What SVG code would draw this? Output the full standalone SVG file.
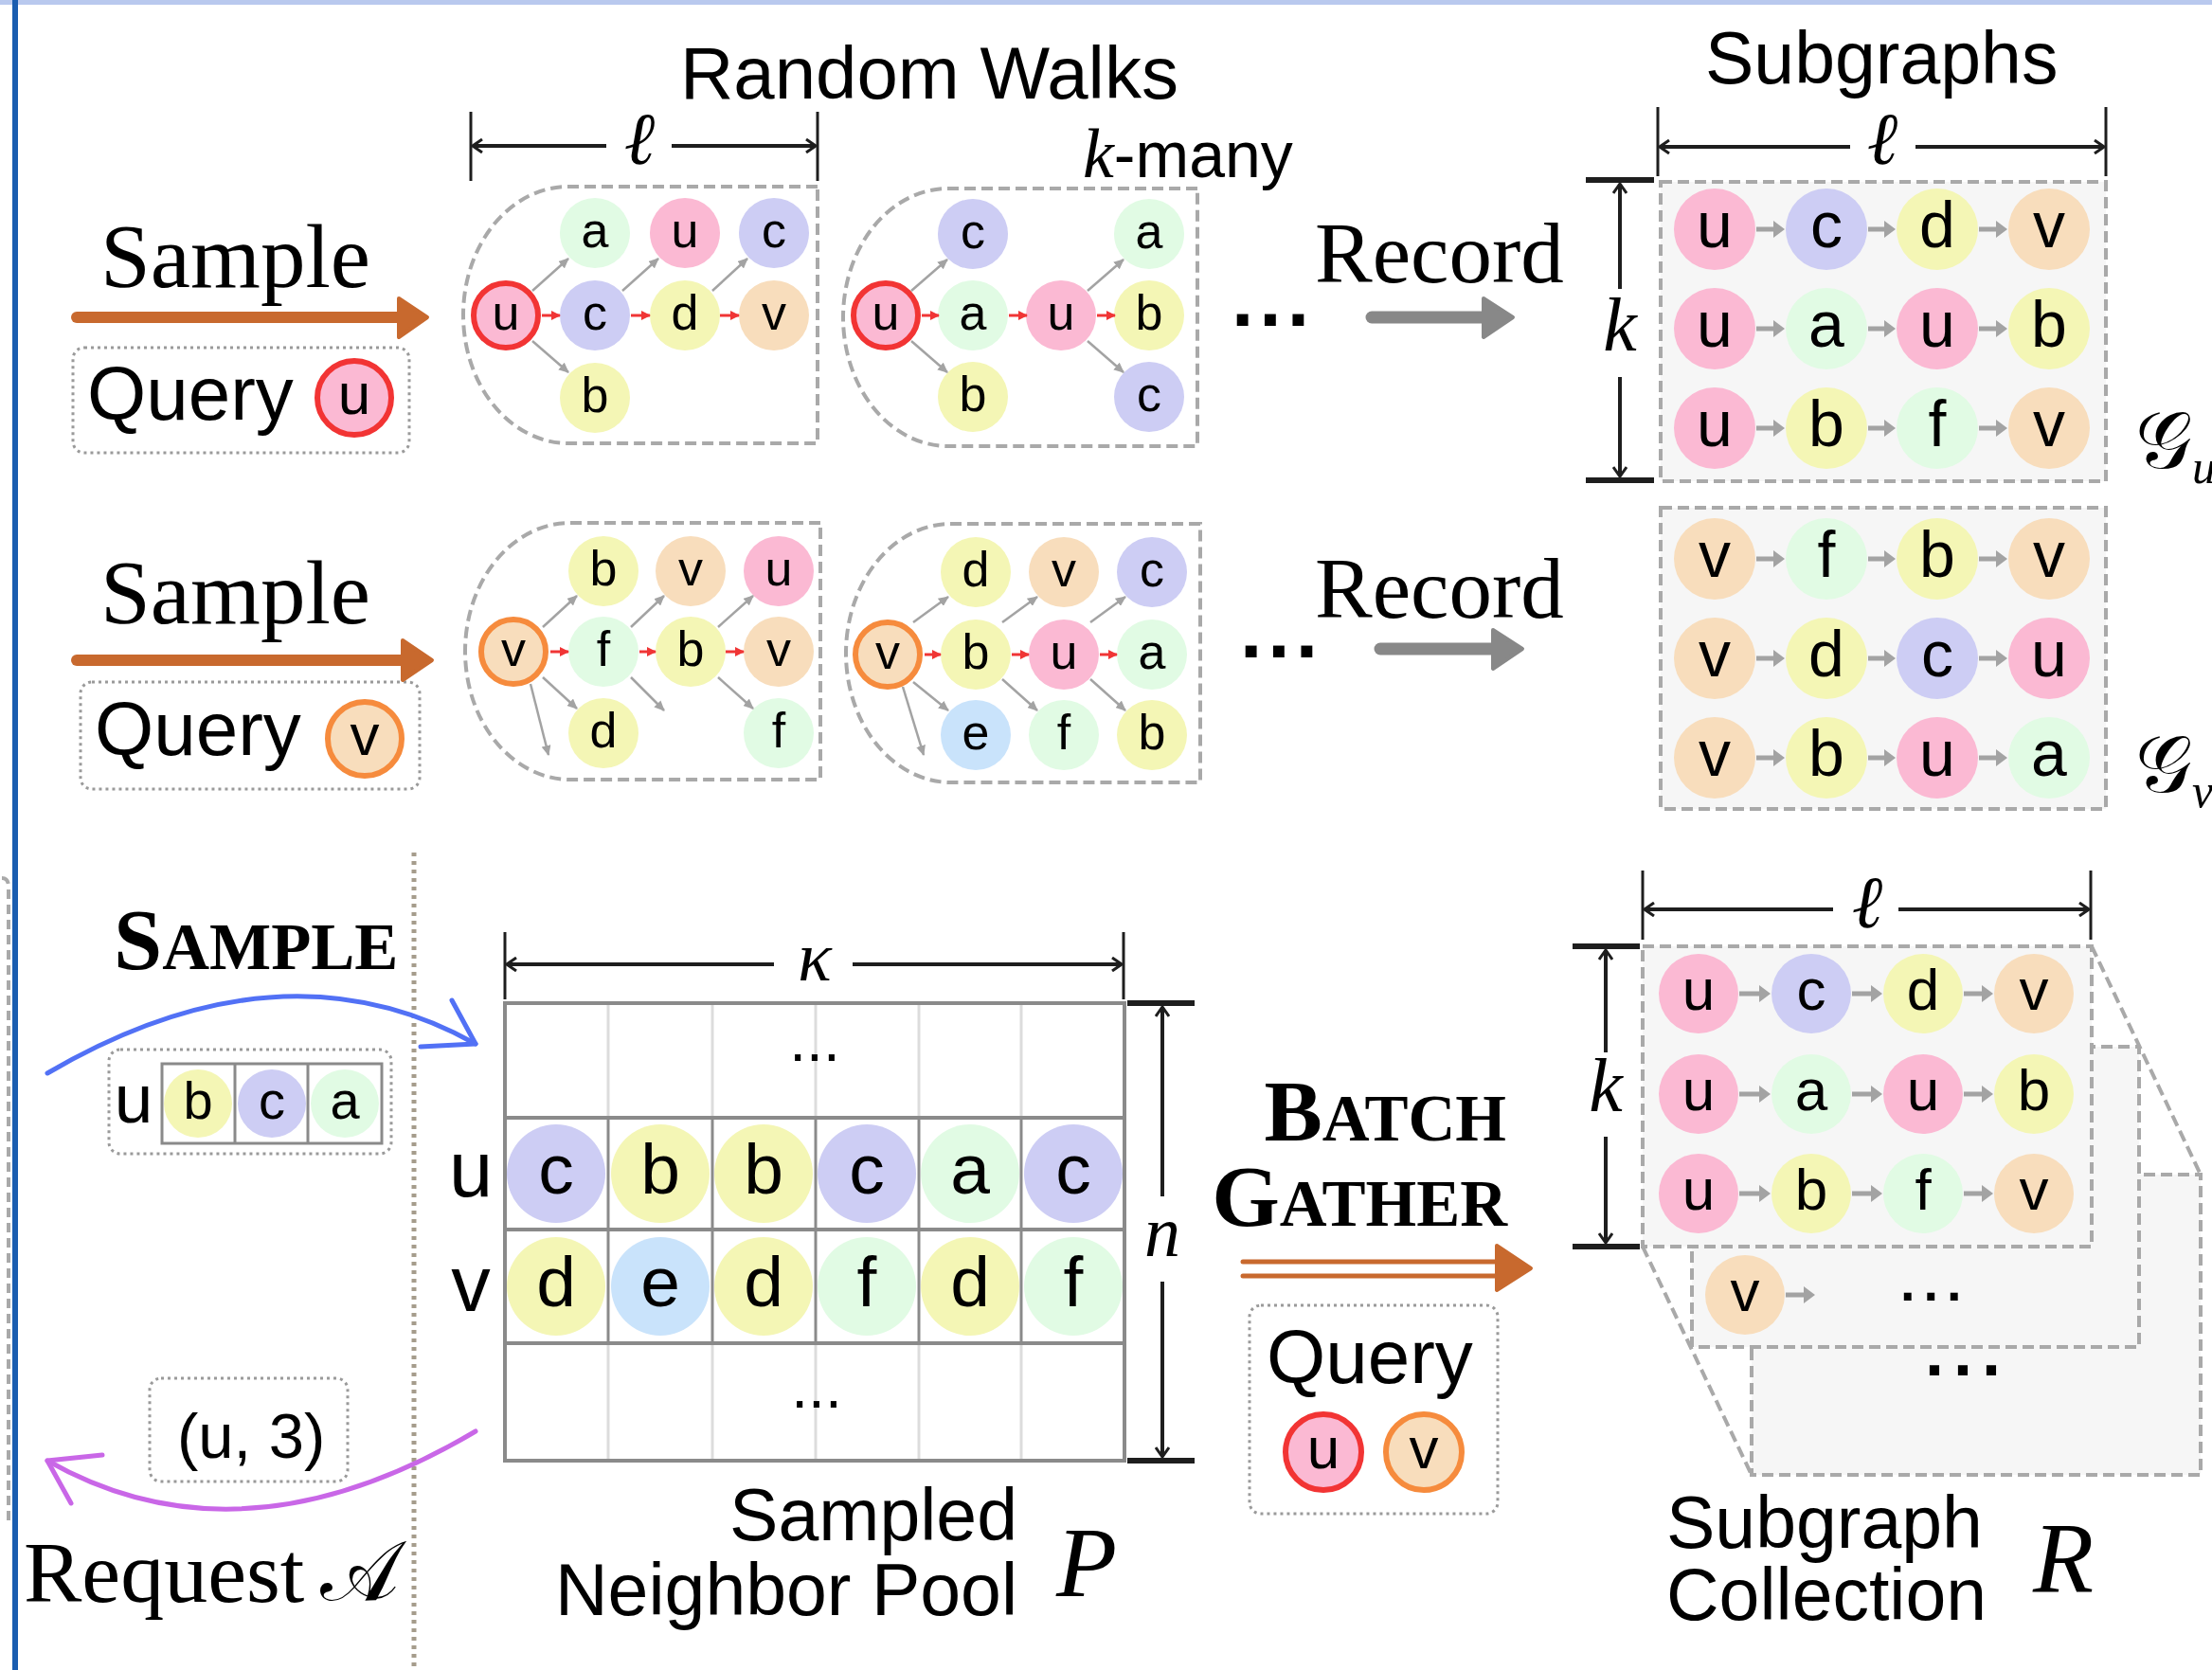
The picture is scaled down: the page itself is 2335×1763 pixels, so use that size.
<svg xmlns="http://www.w3.org/2000/svg" width="2335" height="1763" viewBox="0 0 2335 1763">
<defs>
<style>
.sans{font-family:"Liberation Sans",Arial,sans-serif}
.serif{font-family:"Liberation Serif","Times New Roman",serif}
.math{font-family:"Liberation Serif","DejaVu Serif",serif;font-style:italic}
.cal{font-family:"DejaVu Serif","Liberation Serif",serif;font-style:normal}
.n text{font-family:"Liberation Sans",Arial,sans-serif;text-anchor:middle;fill:#000}
.wk text{font-size:52px}
.sg text{font-size:68px}
.rc text{font-size:62px}
.pl text{font-size:75px}
.sm text{font-size:56px}
.qy text{font-size:62px}
.pk{fill:#fbb9d3}
.lv{fill:#cdcdf4}
.yl{fill:#f4f6b5}
.pc{fill:#f8ddbc}
.mt{fill:#e1fbe4}
.bl{fill:#c9e3fb}
.qu{stroke:#f23434;stroke-width:6}
.qv{stroke:#f68b3d;stroke-width:6}
.pan{fill:none;stroke:#a9a9a9;stroke-width:4;stroke-dasharray:12 6}
.sgp{fill:#f6f6f6;stroke:#a9a9a9;stroke-width:4;stroke-dasharray:12 6}
.qbox{fill:none;stroke:#9a9a9a;stroke-width:3;stroke-dasharray:3 4}
.dim{stroke:#1e1e1e;stroke-width:4;fill:none;marker-end:url(#dm)}
.tick{stroke:#1e1e1e;stroke-width:3}
.tickb{stroke:#1e1e1e;stroke-width:6}
.ga{stroke:#a3a3a3;stroke-width:2.5;fill:none;marker-end:url(#gm)}
.ra{stroke:#f03535;stroke-width:3;fill:none;marker-end:url(#rm)}
.sa{stroke:#a3a3a3;stroke-width:5;fill:none;marker-end:url(#sm)}
.grid{stroke:#8a8a8a;stroke-width:4;fill:none}
.gridl{stroke:#dcdcdc;stroke-width:3}
.gridm{stroke:#8a8a8a;stroke-width:3}
</style>
<marker id="gm" markerUnits="userSpaceOnUse" viewBox="0 0 11 10" refX="10" refY="5" markerWidth="11" markerHeight="10" orient="auto"><path d="M0,0 L11,5 L0,10 z" fill="#a3a3a3"/></marker>
<marker id="rm" markerUnits="userSpaceOnUse" viewBox="0 0 10 10" refX="9" refY="5" markerWidth="10" markerHeight="10" orient="auto"><path d="M0,0 L10,5 L0,10 z" fill="#f03535"/></marker>
<marker id="sm" markerUnits="userSpaceOnUse" viewBox="0 0 12 18" refX="2" refY="9" markerWidth="12" markerHeight="18" orient="auto"><path d="M0,0 L12,9 L0,18 z" fill="#a3a3a3"/></marker>
<marker id="dm" markerUnits="userSpaceOnUse" viewBox="0 0 12 16" refX="11" refY="8" markerWidth="12" markerHeight="16" orient="auto"><path d="M1,1 L11,8 L1,15" fill="none" stroke="#1e1e1e" stroke-width="3"/></marker>
</defs>

<rect width="2335" height="1763" fill="#ffffff"/>
<!-- page frame -->
<rect x="0" y="0" width="2335" height="5" fill="#b9c9ee"/>
<rect x="13" y="0" width="6" height="1763" fill="#1a5db0"/>
<path d="M2 927 Q9 927 9 936 L9 1606" fill="none" stroke="#a9a9a9" stroke-width="4" stroke-dasharray="10 6"/>
<line x1="437" y1="900" x2="437" y2="1763" stroke="#a59c8c" stroke-width="5" stroke-dasharray="4 5"/>

<!-- ===== top section: random walks ===== -->
<g id="labels-top">
<text x="718" y="104" class="sans" font-size="78">Random Walks</text>
<text x="1800" y="88" class="sans" font-size="77">Subgraphs</text>
<text x="1143" y="187"><tspan class="math" font-size="74">k</tspan><tspan class="sans" font-size="68">-many</tspan></text>
<text x="106" y="303" class="serif" font-size="95">Sample</text>
<text x="106" y="658" class="serif" font-size="95">Sample</text>
<text x="1388" y="298" class="serif" font-size="91">Record</text>
<text x="1388" y="652" class="serif" font-size="91">Record</text>
<text x="1300" y="344" class="sans" font-size="84" font-weight="bold" letter-spacing="6">...</text>
<text x="1309" y="694" class="sans" font-size="84" font-weight="bold" letter-spacing="6">...</text>
<text x="2254" y="494" class="cal" font-size="84">𝒢<tspan class="math" font-size="50" dy="16">u</tspan></text>
<text x="2254" y="836" class="cal" font-size="84">𝒢<tspan class="math" font-size="50" dy="16">v</tspan></text>
</g>

<!-- query boxes -->
<g id="query-u">
<rect x="77" y="367" width="355" height="111" rx="12" class="qbox"/>
<text x="92" y="443" class="sans" font-size="80">Query</text>
<g class="n qy" transform="translate(374 420)"><circle r="39" class="pk qu"/><text y="17">u</text></g>
</g>
<g id="query-v">
<rect x="85" y="720" width="358" height="113" rx="12" class="qbox"/>
<text x="100" y="797" class="sans" font-size="80">Query</text>
<g class="n qy" transform="translate(385 780)"><circle r="39" class="pc qv"/><text y="17">v</text></g>
</g>

<!-- walk panels -->
<path id="walk-u1" class="pan" d="M863 197 L600 197 A111 135.5 0 0 0 600 468 L863 468 Z"/>
<path id="walk-u2" class="pan" d="M1264 199 L1001 199 A111 136 0 0 0 1001 471 L1264 471 Z"/>
<path id="walk-v1" class="pan" d="M866 552 L602 552 A111 135.5 0 0 0 602 823 L866 823 Z"/>
<path id="walk-v2" class="pan" d="M1267 553 L1004 553 A111 136.5 0 0 0 1004 826 L1267 826 Z"/>

<!-- subgraph panels -->
<rect id="panel-gu" x="1753" y="192" width="470" height="316" class="sgp"/>
<rect id="panel-gv" x="1753" y="536" width="470" height="318" class="sgp"/>

<!-- dimension marks -->
<g id="dims-top">
<line x1="497" y1="118" x2="497" y2="191" class="tick"/>
<line x1="863" y1="118" x2="863" y2="191" class="tick"/>
<path d="M640 154 L499 154" class="dim"/>
<path d="M709 154 L861 154" class="dim"/>
<text x="675" y="173" class="math" font-size="78" text-anchor="middle">ℓ</text>
<line x1="1750" y1="113" x2="1750" y2="186" class="tick"/>
<line x1="2223" y1="113" x2="2223" y2="186" class="tick"/>
<path d="M1953 155 L1752 155" class="dim"/>
<path d="M2022 155 L2221 155" class="dim"/>
<text x="1987" y="173" class="math" font-size="78" text-anchor="middle">ℓ</text>
<line x1="1674" y1="190" x2="1746" y2="190" class="tickb"/>
<line x1="1674" y1="507" x2="1746" y2="507" class="tickb"/>
<path d="M1710 305 L1710 194" class="dim"/>
<path d="M1710 398 L1710 503" class="dim"/>
<text x="1710" y="370" class="math" font-size="80" text-anchor="middle">k</text>
</g>

<!-- walk nodes -->
<g class="n wk">
<g id="w1-u0" transform="translate(534 333)"><circle r="34" class="pk qu"/><text y="15">u</text></g>
<g id="w1-a" transform="translate(628 246)"><circle r="37" class="mt"/><text y="15">a</text></g>
<g id="w1-c" transform="translate(628 333)"><circle r="37" class="lv"/><text y="15">c</text></g>
<g id="w1-b" transform="translate(628 420)"><circle r="37" class="yl"/><text y="15">b</text></g>
<g id="w1-u1" transform="translate(723 246)"><circle r="37" class="pk"/><text y="15">u</text></g>
<g id="w1-d" transform="translate(723 333)"><circle r="37" class="yl"/><text y="15">d</text></g>
<g id="w1-c2" transform="translate(817 246)"><circle r="37" class="lv"/><text y="15">c</text></g>
<g id="w1-v" transform="translate(817 333)"><circle r="37" class="pc"/><text y="15">v</text></g>

<g id="w2-u0" transform="translate(935 333)"><circle r="34" class="pk qu"/><text y="15">u</text></g>
<g id="w2-c" transform="translate(1027 247)"><circle r="37" class="lv"/><text y="15">c</text></g>
<g id="w2-a" transform="translate(1027 333)"><circle r="37" class="mt"/><text y="15">a</text></g>
<g id="w2-b" transform="translate(1027 419)"><circle r="37" class="yl"/><text y="15">b</text></g>
<g id="w2-u1" transform="translate(1120 333)"><circle r="37" class="pk"/><text y="15">u</text></g>
<g id="w2-a2" transform="translate(1213 247)"><circle r="37" class="mt"/><text y="15">a</text></g>
<g id="w2-b2" transform="translate(1213 333)"><circle r="37" class="yl"/><text y="15">b</text></g>
<g id="w2-c2" transform="translate(1213 419)"><circle r="37" class="lv"/><text y="15">c</text></g>

<g id="w3-v0" transform="translate(542 688)"><circle r="34" class="pc qv"/><text y="15">v</text></g>
<g id="w3-b" transform="translate(637 603)"><circle r="37" class="yl"/><text y="15">b</text></g>
<g id="w3-f" transform="translate(637 688)"><circle r="37" class="mt"/><text y="15">f</text></g>
<g id="w3-d" transform="translate(637 774)"><circle r="37" class="yl"/><text y="15">d</text></g>
<g id="w3-v1" transform="translate(729 603)"><circle r="37" class="pc"/><text y="15">v</text></g>
<g id="w3-b2" transform="translate(729 688)"><circle r="37" class="yl"/><text y="15">b</text></g>
<g id="w3-u" transform="translate(822 603)"><circle r="37" class="pk"/><text y="15">u</text></g>
<g id="w3-v2" transform="translate(822 688)"><circle r="37" class="pc"/><text y="15">v</text></g>
<g id="w3-f2" transform="translate(822 774)"><circle r="37" class="mt"/><text y="15">f</text></g>

<g id="w4-v0" transform="translate(937 691)"><circle r="34" class="pc qv"/><text y="15">v</text></g>
<g id="w4-d" transform="translate(1030 604)"><circle r="37" class="yl"/><text y="15">d</text></g>
<g id="w4-b" transform="translate(1030 691)"><circle r="37" class="yl"/><text y="15">b</text></g>
<g id="w4-e" transform="translate(1030 776)"><circle r="37" class="bl"/><text y="15">e</text></g>
<g id="w4-v1" transform="translate(1123 604)"><circle r="37" class="pc"/><text y="15">v</text></g>
<g id="w4-u" transform="translate(1123 691)"><circle r="37" class="pk"/><text y="15">u</text></g>
<g id="w4-f" transform="translate(1123 776)"><circle r="37" class="mt"/><text y="15">f</text></g>
<g id="w4-c" transform="translate(1216 604)"><circle r="37" class="lv"/><text y="15">c</text></g>
<g id="w4-a" transform="translate(1216 691)"><circle r="37" class="mt"/><text y="15">a</text></g>
<g id="w4-b2" transform="translate(1216 776)"><circle r="37" class="yl"/><text y="15">b</text></g>
</g>

<!-- subgraph nodes G_u / G_v -->
<g class="n sg">
<g id="gu-11" transform="translate(1810 242)"><circle r="43" class="pk"/><text y="19">u</text></g>
<g id="gu-12" transform="translate(1928 242)"><circle r="43" class="lv"/><text y="19">c</text></g>
<g id="gu-13" transform="translate(2045 242)"><circle r="43" class="yl"/><text y="19">d</text></g>
<g id="gu-14" transform="translate(2163 242)"><circle r="43" class="pc"/><text y="19">v</text></g>
<g id="gu-21" transform="translate(1810 347)"><circle r="43" class="pk"/><text y="19">u</text></g>
<g id="gu-22" transform="translate(1928 347)"><circle r="43" class="mt"/><text y="19">a</text></g>
<g id="gu-23" transform="translate(2045 347)"><circle r="43" class="pk"/><text y="19">u</text></g>
<g id="gu-24" transform="translate(2163 347)"><circle r="43" class="yl"/><text y="19">b</text></g>
<g id="gu-31" transform="translate(1810 452)"><circle r="43" class="pk"/><text y="19">u</text></g>
<g id="gu-32" transform="translate(1928 452)"><circle r="43" class="yl"/><text y="19">b</text></g>
<g id="gu-33" transform="translate(2045 452)"><circle r="43" class="mt"/><text y="19">f</text></g>
<g id="gu-34" transform="translate(2163 452)"><circle r="43" class="pc"/><text y="19">v</text></g>

<g id="gv-11" transform="translate(1810 590)"><circle r="43" class="pc"/><text y="19">v</text></g>
<g id="gv-12" transform="translate(1928 590)"><circle r="43" class="mt"/><text y="19">f</text></g>
<g id="gv-13" transform="translate(2045 590)"><circle r="43" class="yl"/><text y="19">b</text></g>
<g id="gv-14" transform="translate(2163 590)"><circle r="43" class="pc"/><text y="19">v</text></g>
<g id="gv-21" transform="translate(1810 695)"><circle r="43" class="pc"/><text y="19">v</text></g>
<g id="gv-22" transform="translate(1928 695)"><circle r="43" class="yl"/><text y="19">d</text></g>
<g id="gv-23" transform="translate(2045 695)"><circle r="43" class="lv"/><text y="19">c</text></g>
<g id="gv-24" transform="translate(2163 695)"><circle r="43" class="pk"/><text y="19">u</text></g>
<g id="gv-31" transform="translate(1810 800)"><circle r="43" class="pc"/><text y="19">v</text></g>
<g id="gv-32" transform="translate(1928 800)"><circle r="43" class="yl"/><text y="19">b</text></g>
<g id="gv-33" transform="translate(2045 800)"><circle r="43" class="pk"/><text y="19">u</text></g>
<g id="gv-34" transform="translate(2163 800)"><circle r="43" class="mt"/><text y="19">a</text></g>
</g>

<!-- ===== bottom section: neighbor pool ===== -->
<g id="labels-bottom">
<text x="120" y="1023" class="serif" font-weight="bold" font-size="92">S<tspan font-size="69">AMPLE</tspan></text>
<text x="1590" y="1204" class="serif" font-weight="bold" font-size="92" text-anchor="end">B<tspan font-size="69">ATCH</tspan></text>
<text x="1591" y="1294" class="serif" font-weight="bold" font-size="92" text-anchor="end">G<tspan font-size="69">ATHER</tspan></text>
<text x="25" y="1691" class="serif" font-size="92">Request</text>
<text x="338" y="1689" class="cal" font-size="88">𝒜</text>
<text x="1074" y="1626" class="sans" font-size="77" text-anchor="end">Sampled</text>
<text x="1074" y="1705" class="sans" font-size="77" text-anchor="end">Neighbor Pool</text>
<text x="1115" y="1685" class="math" font-size="105">P</text>
<text x="1759" y="1634" class="sans" font-size="77">Subgraph</text>
<text x="1759" y="1710" class="sans" font-size="77">Collection</text>
<text x="2146" y="1680" class="math" font-size="105">R</text>
</g>

<!-- request box -->
<g id="request">
<rect x="158" y="1455" width="209" height="109" rx="12" class="qbox"/>
<text x="187" y="1539" class="sans" font-size="67">(u, 3)</text>
</g>

<!-- sampled row u b c a -->
<g id="sample-row">
<rect x="115" y="1108" width="298" height="110" rx="12" class="qbox"/>
<text x="141" y="1185" class="sans" font-size="73" text-anchor="middle">u</text>
<g class="n sm">
<g id="s-b" transform="translate(209 1165)"><circle r="36" class="yl"/><text y="16">b</text></g>
<g id="s-c" transform="translate(287 1165)"><circle r="36" class="lv"/><text y="16">c</text></g>
<g id="s-a" transform="translate(364 1165)"><circle r="36" class="mt"/><text y="16">a</text></g>
</g>
<rect x="171" y="1123" width="232" height="84" fill="none" stroke="#8a8a8a" stroke-width="3"/>
<line x1="248" y1="1123" x2="248" y2="1207" stroke="#8a8a8a" stroke-width="3"/>
<line x1="325" y1="1123" x2="325" y2="1207" stroke="#8a8a8a" stroke-width="3"/>
</g>

<!-- neighbor pool grid -->
<g id="pool">
<g class="gridl">
<line x1="642" y1="1059" x2="642" y2="1180"/><line x1="752" y1="1059" x2="752" y2="1180"/><line x1="861" y1="1059" x2="861" y2="1180"/><line x1="970" y1="1059" x2="970" y2="1180"/><line x1="1078" y1="1059" x2="1078" y2="1180"/>
<line x1="642" y1="1418" x2="642" y2="1542"/><line x1="752" y1="1418" x2="752" y2="1542"/><line x1="861" y1="1418" x2="861" y2="1542"/><line x1="970" y1="1418" x2="970" y2="1542"/><line x1="1078" y1="1418" x2="1078" y2="1542"/>
</g>
<g class="gridm">
<line x1="642" y1="1180" x2="642" y2="1418"/><line x1="752" y1="1180" x2="752" y2="1418"/><line x1="861" y1="1180" x2="861" y2="1418"/><line x1="970" y1="1180" x2="970" y2="1418"/><line x1="1078" y1="1180" x2="1078" y2="1418"/>
</g>
<rect x="533" y="1059" width="654" height="483" class="grid"/>
<line x1="533" y1="1180" x2="1187" y2="1180" class="grid"/>
<line x1="533" y1="1298" x2="1187" y2="1298" class="grid"/>
<line x1="533" y1="1418" x2="1187" y2="1418" class="grid"/>
<text x="860" y="1120" class="sans" font-size="64" text-anchor="middle">...</text>
<text x="862" y="1486" class="sans" font-size="64" text-anchor="middle">...</text>
<text x="497" y="1263" class="sans" font-size="83" text-anchor="middle">u</text>
<text x="497" y="1384" class="sans" font-size="83" text-anchor="middle">v</text>
</g>
<g class="n pl">
<g id="p-u1" transform="translate(587 1239)"><circle r="52" class="lv"/><text y="21">c</text></g>
<g id="p-u2" transform="translate(697 1239)"><circle r="52" class="yl"/><text y="21">b</text></g>
<g id="p-u3" transform="translate(806 1239)"><circle r="52" class="yl"/><text y="21">b</text></g>
<g id="p-u4" transform="translate(915 1239)"><circle r="52" class="lv"/><text y="21">c</text></g>
<g id="p-u5" transform="translate(1024 1239)"><circle r="52" class="mt"/><text y="21">a</text></g>
<g id="p-u6" transform="translate(1133 1239)"><circle r="52" class="lv"/><text y="21">c</text></g>
<g id="p-v1" transform="translate(587 1358)"><circle r="52" class="yl"/><text y="21">d</text></g>
<g id="p-v2" transform="translate(697 1358)"><circle r="52" class="bl"/><text y="21">e</text></g>
<g id="p-v3" transform="translate(806 1358)"><circle r="52" class="yl"/><text y="21">d</text></g>
<g id="p-v4" transform="translate(915 1358)"><circle r="52" class="mt"/><text y="21">f</text></g>
<g id="p-v5" transform="translate(1024 1358)"><circle r="52" class="yl"/><text y="21">d</text></g>
<g id="p-v6" transform="translate(1133 1358)"><circle r="52" class="mt"/><text y="21">f</text></g>
</g>

<g id="dims-pool">
<line x1="533" y1="984" x2="533" y2="1055" class="tick"/>
<line x1="1186" y1="984" x2="1186" y2="1055" class="tick"/>
<path d="M817 1018 L535 1018" class="dim"/>
<path d="M900 1018 L1184 1018" class="dim"/>
<text x="860" y="1035" class="math" font-size="74" text-anchor="middle">κ</text>
<line x1="1190" y1="1059" x2="1261" y2="1059" class="tickb"/>
<line x1="1190" y1="1542" x2="1261" y2="1542" class="tickb"/>
<path d="M1227 1263 L1227 1063" class="dim"/>
<path d="M1227 1353 L1227 1538" class="dim"/>
<text x="1227" y="1326" class="math" font-size="76" text-anchor="middle">n</text>
</g>

<!-- batch gather query -->
<g id="query-uv">
<rect x="1319" y="1378" width="262" height="220" rx="12" class="qbox"/>
<text x="1337" y="1460" class="sans" font-size="80">Query</text>
<g class="n qy" transform="translate(1397 1533)"><circle r="40" class="pk qu"/><text y="17">u</text></g>
<g class="n qy" transform="translate(1503 1533)"><circle r="40" class="pc qv"/><text y="17">v</text></g>
</g>

<!-- subgraph collection stack -->
<g id="collection">
<rect x="1849" y="1240" width="474" height="317" class="sgp"/>
<rect x="1786" y="1105" width="472" height="317" class="sgp"/>
<rect x="1734" y="999" width="474" height="317" class="sgp"/>
<line x1="2208" y1="999" x2="2323" y2="1240" class="pan"/>
<line x1="1734" y1="1316" x2="1849" y2="1557" class="pan"/>
<text x="2006" y="1373" class="sans" font-size="56" font-weight="bold" letter-spacing="9">...</text>
<text x="2032" y="1452" class="sans" font-size="72" font-weight="bold" letter-spacing="10">...</text>
<line x1="1734" y1="919" x2="1734" y2="992" class="tick"/>
<line x1="2207" y1="919" x2="2207" y2="992" class="tick"/>
<path d="M1935 960 L1736 960" class="dim"/>
<path d="M2004 960 L2205 960" class="dim"/>
<text x="1971" y="979" class="math" font-size="78" text-anchor="middle">ℓ</text>
<line x1="1660" y1="999" x2="1731" y2="999" class="tickb"/>
<line x1="1660" y1="1316" x2="1731" y2="1316" class="tickb"/>
<path d="M1695 1111 L1695 1003" class="dim"/>
<path d="M1695 1200 L1695 1312" class="dim"/>
<text x="1695" y="1173" class="math" font-size="80" text-anchor="middle">k</text>
</g>
<g class="n rc">
<g id="r-11" transform="translate(1793 1049)"><circle r="42" class="pk"/><text y="17">u</text></g>
<g id="r-12" transform="translate(1912 1049)"><circle r="42" class="lv"/><text y="17">c</text></g>
<g id="r-13" transform="translate(2030 1049)"><circle r="42" class="yl"/><text y="17">d</text></g>
<g id="r-14" transform="translate(2147 1049)"><circle r="42" class="pc"/><text y="17">v</text></g>
<g id="r-21" transform="translate(1793 1155)"><circle r="42" class="pk"/><text y="17">u</text></g>
<g id="r-22" transform="translate(1912 1155)"><circle r="42" class="mt"/><text y="17">a</text></g>
<g id="r-23" transform="translate(2030 1155)"><circle r="42" class="pk"/><text y="17">u</text></g>
<g id="r-24" transform="translate(2147 1155)"><circle r="42" class="yl"/><text y="17">b</text></g>
<g id="r-31" transform="translate(1793 1260)"><circle r="42" class="pk"/><text y="17">u</text></g>
<g id="r-32" transform="translate(1912 1260)"><circle r="42" class="yl"/><text y="17">b</text></g>
<g id="r-33" transform="translate(2030 1260)"><circle r="42" class="mt"/><text y="17">f</text></g>
<g id="r-34" transform="translate(2147 1260)"><circle r="42" class="pc"/><text y="17">v</text></g>
<g id="r2-v" transform="translate(1842 1367)"><circle r="42" class="pc"/><text y="17">v</text></g>
</g>

<!-- connectors -->
<g id="connectors">
<!-- sample arrows -->
<line x1="81" y1="335" x2="424" y2="335" stroke="#c8692e" stroke-width="12" stroke-linecap="round"/>
<path d="M421 315 L451 335 L421 356 Z" fill="#c8692e" stroke="#c8692e" stroke-width="4" stroke-linejoin="round"/>
<line x1="81" y1="697" x2="428" y2="697" stroke="#c8692e" stroke-width="12" stroke-linecap="round"/>
<path d="M425 676 L456 697 L425 718 Z" fill="#c8692e" stroke="#c8692e" stroke-width="4" stroke-linejoin="round"/>
<!-- record arrows -->
<line x1="1448" y1="335" x2="1570" y2="335" stroke="#888888" stroke-width="13" stroke-linecap="round"/>
<path d="M1566 315 L1597 335 L1566 356 Z" fill="#888888" stroke="#888888" stroke-width="4" stroke-linejoin="round"/>
<line x1="1457" y1="685" x2="1580" y2="685" stroke="#888888" stroke-width="13" stroke-linecap="round"/>
<path d="M1576 665 L1607 685 L1576 706 Z" fill="#888888" stroke="#888888" stroke-width="4" stroke-linejoin="round"/>
<!-- batch gather arrow -->
<line x1="1312" y1="1332" x2="1584" y2="1332" stroke="#c8692e" stroke-width="5" stroke-linecap="round"/>
<line x1="1312" y1="1347" x2="1584" y2="1347" stroke="#c8692e" stroke-width="5" stroke-linecap="round"/>
<path d="M1580 1315 L1616 1339 L1580 1362 Z" fill="#c8692e" stroke="#c8692e" stroke-width="4" stroke-linejoin="round"/>
<!-- sample / request curves -->
<path d="M50 1133 Q298 988 502 1102" fill="none" stroke="#5271f5" stroke-width="5" stroke-linecap="round"/>
<path d="M477 1056 L502 1102 L444 1105" fill="none" stroke="#5271f5" stroke-width="5" stroke-linecap="round" stroke-linejoin="round"/>
<path d="M502 1511 Q254 1658 50 1542" fill="none" stroke="#c967e7" stroke-width="5" stroke-linecap="round"/>
<path d="M108 1536 L50 1542 L75 1587" fill="none" stroke="#c967e7" stroke-width="5" stroke-linecap="round" stroke-linejoin="round"/>
<!-- walk 1 -->
<line x1="562" y1="307" x2="600" y2="273" class="ga"/>
<line x1="562" y1="360" x2="600" y2="393" class="ga"/>
<line x1="657" y1="307" x2="695" y2="273" class="ga"/>
<line x1="752" y1="307" x2="789" y2="273" class="ga"/>
<line x1="572" y1="333" x2="591" y2="333" class="ra"/>
<line x1="666" y1="333" x2="686" y2="333" class="ra"/>
<line x1="760" y1="333" x2="780" y2="333" class="ra"/>
<!-- walk 2 -->
<line x1="962" y1="307" x2="1000" y2="274" class="ga"/>
<line x1="962" y1="360" x2="1000" y2="393" class="ga"/>
<line x1="1148" y1="307" x2="1186" y2="274" class="ga"/>
<line x1="1148" y1="360" x2="1186" y2="393" class="ga"/>
<line x1="973" y1="333" x2="991" y2="333" class="ra"/>
<line x1="1065" y1="333" x2="1084" y2="333" class="ra"/>
<line x1="1158" y1="333" x2="1177" y2="333" class="ra"/>
<!-- walk 3 -->
<line x1="573" y1="662" x2="609" y2="629" class="ga"/>
<line x1="573" y1="715" x2="609" y2="748" class="ga"/>
<line x1="560" y1="722" x2="579" y2="797" class="ga"/>
<line x1="666" y1="662" x2="701" y2="629" class="ga"/>
<line x1="666" y1="715" x2="701" y2="750" class="ga"/>
<line x1="758" y1="662" x2="795" y2="629" class="ga"/>
<line x1="758" y1="715" x2="795" y2="748" class="ga"/>
<line x1="581" y1="688" x2="600" y2="688" class="ra"/>
<line x1="675" y1="688" x2="692" y2="688" class="ra"/>
<line x1="766" y1="688" x2="785" y2="688" class="ra"/>
<!-- walk 4 -->
<line x1="964" y1="657" x2="1001" y2="630" class="ga"/>
<line x1="964" y1="720" x2="1001" y2="750" class="ga"/>
<line x1="953" y1="725" x2="975" y2="797" class="ga"/>
<line x1="1058" y1="657" x2="1095" y2="630" class="ga"/>
<line x1="1058" y1="717" x2="1095" y2="750" class="ga"/>
<line x1="1151" y1="657" x2="1188" y2="630" class="ga"/>
<line x1="1151" y1="717" x2="1188" y2="750" class="ga"/>
<line x1="976" y1="691" x2="993" y2="691" class="ra"/>
<line x1="1068" y1="691" x2="1086" y2="691" class="ra"/>
<line x1="1161" y1="691" x2="1179" y2="691" class="ra"/>
<!-- G_u rows -->
<line x1="1854" y1="242" x2="1874" y2="242" class="sa"/><line x1="1972" y1="242" x2="1991" y2="242" class="sa"/><line x1="2089" y1="242" x2="2109" y2="242" class="sa"/>
<line x1="1854" y1="347" x2="1874" y2="347" class="sa"/><line x1="1972" y1="347" x2="1991" y2="347" class="sa"/><line x1="2089" y1="347" x2="2109" y2="347" class="sa"/>
<line x1="1854" y1="452" x2="1874" y2="452" class="sa"/><line x1="1972" y1="452" x2="1991" y2="452" class="sa"/><line x1="2089" y1="452" x2="2109" y2="452" class="sa"/>
<!-- G_v rows -->
<line x1="1854" y1="590" x2="1874" y2="590" class="sa"/><line x1="1972" y1="590" x2="1991" y2="590" class="sa"/><line x1="2089" y1="590" x2="2109" y2="590" class="sa"/>
<line x1="1854" y1="695" x2="1874" y2="695" class="sa"/><line x1="1972" y1="695" x2="1991" y2="695" class="sa"/><line x1="2089" y1="695" x2="2109" y2="695" class="sa"/>
<line x1="1854" y1="800" x2="1874" y2="800" class="sa"/><line x1="1972" y1="800" x2="1991" y2="800" class="sa"/><line x1="2089" y1="800" x2="2109" y2="800" class="sa"/>
<!-- R rows -->
<line x1="1836" y1="1049" x2="1859" y2="1049" class="sa"/><line x1="1955" y1="1049" x2="1977" y2="1049" class="sa"/><line x1="2073" y1="1049" x2="2094" y2="1049" class="sa"/>
<line x1="1836" y1="1155" x2="1859" y2="1155" class="sa"/><line x1="1955" y1="1155" x2="1977" y2="1155" class="sa"/><line x1="2073" y1="1155" x2="2094" y2="1155" class="sa"/>
<line x1="1836" y1="1260" x2="1859" y2="1260" class="sa"/><line x1="1955" y1="1260" x2="1977" y2="1260" class="sa"/><line x1="2073" y1="1260" x2="2094" y2="1260" class="sa"/>
<line x1="1885" y1="1367" x2="1906" y2="1367" class="sa"/>
</g>
</svg>
